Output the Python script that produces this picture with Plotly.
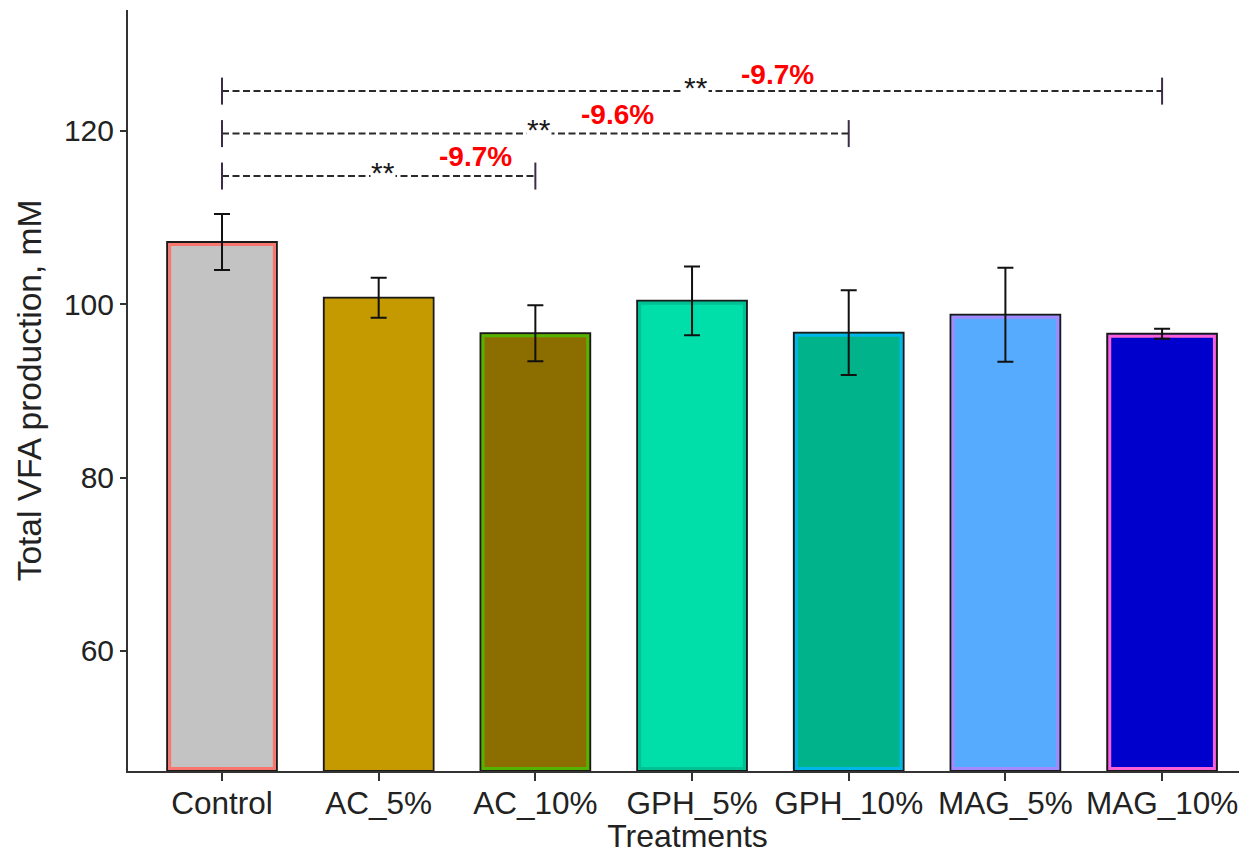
import plotly.graph_objects as go

# ---- data ----
categories = ["Control", "AC_5%", "AC_10%", "GPH_5%", "GPH_10%", "MAG_5%", "MAG_10%"]
means = [107.2, 100.75, 96.65, 100.4, 96.73, 98.8, 96.6]
errors = [3.23, 2.31, 3.23, 3.96, 4.88, 5.42, 0.58]
fill_colors = ["#C3C3C3", "#C49A00", "#8C6D00", "#00DEA9", "#00B38A", "#56ABFF", "#0000CD"]
outline_colors = ["#F8766D", "#C49A00", "#53B400", "#00C094", "#00B6EB", "#A58AFF", "#FB61D7"]

bracket_pairs = [("Control", "AC_10%"), ("Control", "GPH_10%"), ("Control", "MAG_10%")]
bracket_y = [114.8, 119.7, 124.6]
bracket_stars = ["**", "**", "**"]
bracket_pct = ["-9.7%", "-9.6%", "-9.7%"]

y_ticks = [60, 80, 100, 120]

# ---- layout geometry (page body has an 8px margin) ----
W, H = 1239, 846
ML, MR, MT, MB = 120, 0, 2, 83
y_range = [46.15, 133.96]
x_range = [-0.6, 6.542]
px_per_x = (W - ML - MR) / (x_range[1] - x_range[0])
px_per_y = (H - MT - MB) / (y_range[1] - y_range[0])

bar_w = 0.70
inset_px = 2.5
inset_x = 2 * inset_px / px_per_x
inset_y = inset_px / px_per_y

FONT = "Liberation Sans, Arial"

fig = go.Figure()

# main bars with black outline
fig.add_trace(go.Bar(
    x=categories, y=[m - y_range[0] for m in means], base=y_range[0],
    width=bar_w,
    marker=dict(color=fill_colors, line=dict(color="#1a1a1a", width=2)),
    hoverinfo="skip", showlegend=False,
))
# inner coloured outline
fig.add_trace(go.Bar(
    x=categories, y=[m - y_range[0] - 2 * inset_y for m in means], base=y_range[0] + inset_y,
    width=bar_w - inset_x,
    marker=dict(color="rgba(0,0,0,0)", line=dict(color=outline_colors, width=3)),
    hoverinfo="skip", showlegend=False,
))
# error bars
fig.add_trace(go.Scatter(
    x=categories, y=means, mode="markers",
    marker=dict(size=1, opacity=0),
    error_y=dict(type="data", array=errors, visible=True, color="#111111", thickness=2, width=8),
    hoverinfo="skip", showlegend=False,
))

fig.update_layout(barmode="overlay")

shapes = []
annotations = []
tick_half = 13.5 / px_per_y
pct_shift = [97, 82, 85]
pct_rise = [19.5, 19, 16.5]
for (a, b), yb, star, pct, sh, rise in zip(bracket_pairs, bracket_y, bracket_stars, bracket_pct, pct_shift, pct_rise):
    xa, xb = categories.index(a), categories.index(b)
    shapes.append(dict(type="line", xref="x", yref="y", x0=xa, x1=xb, y0=yb, y1=yb,
                       line=dict(color="#2a2a2a", width=2, dash="7px,3.5px")))
    for xx in (xa, xb):
        shapes.append(dict(type="line", xref="x", yref="y", x0=xx, x1=xx,
                           y0=yb - tick_half, y1=yb + tick_half,
                           line=dict(color="#3b2c48", width=2)))
    mid = (xa + xb) / 2
    annotations.append(dict(x=mid, y=yb, xref="x", yref="y", text=star, showarrow=False,
                            xshift=4, yshift=4, yanchor="middle",
                            font=dict(family=FONT, size=30, color="#1a1a1a"),
                            bgcolor="white", borderpad=0))
    annotations.append(dict(x=mid, y=yb, xref="x", yref="y", text="<b>%s</b>" % pct, showarrow=False,
                            xshift=sh, yshift=rise, yanchor="middle",
                            font=dict(family=FONT, size=28, color="#FF0000")))

fig.update_layout(
    width=W, height=H,
    margin=dict(l=ML, r=MR, t=MT, b=MB, pad=0),
    plot_bgcolor="white", paper_bgcolor="white",
    font=dict(family=FONT, color="#222222"),
    shapes=shapes, annotations=annotations,
    xaxis=dict(
        type="category", range=x_range, showgrid=False, zeroline=False,
        showline=True, linecolor="#333333", linewidth=2,
        ticks="outside", ticklen=8, tickwidth=1.5, tickcolor="#333333",
        ticklabelstandoff=-5,
        tickfont=dict(size=31.5, color="#222222"),
        title=dict(text="Treatments", font=dict(size=32, color="#222222"), standoff=2),
        automargin=False,
    ),
    yaxis=dict(
        range=y_range, showgrid=False, zeroline=False,
        showline=True, linecolor="#333333", linewidth=2,
        ticks="outside", ticklen=6, tickwidth=1.5, tickcolor="#333333",
        tickvals=y_ticks, tickfont=dict(size=30, color="#222222"),
        title=dict(text="Total VFA production, mM", font=dict(size=33.5, color="#222222"), standoff=12),
        automargin=False,
    ),
)

fig.write_html("out.html")
